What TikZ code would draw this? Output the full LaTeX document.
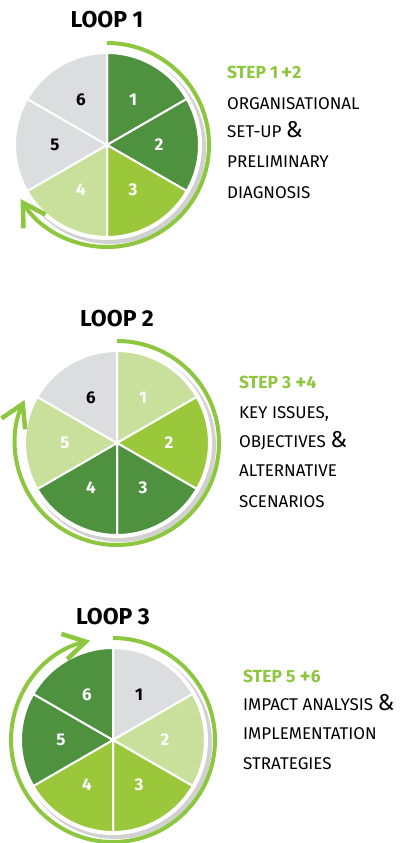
\documentclass[tikz,border=0pt]{standalone}
\usepackage{fontspec}
\setmainfont{Fira Sans}
\usetikzlibrary{arrows.meta, calc, positioning}
\definecolor{LoopDark}{RGB}{78,146,64}
\definecolor{LoopMid}{RGB}{155,199,59}
\definecolor{LoopLight}{RGB}{201,224,157}
\definecolor{LoopGrey}{RGB}{220,221,223}
\definecolor{LoopArrow}{RGB}{141,198,63}

\newcommand{\bigamp}{{\fontsize{23}{23}\selectfont\&}}
\newcommand{\bigplus}{{\fontsize{21}{21}\selectfont\raisebox{-0.5pt}{+}}}

\tikzset{
    slice/.style={draw=white, line width=2pt},
    num/.style={font=\bfseries\fontsize{17}{17}\selectfont},
    looparc/.style={LoopArrow, line width=4pt, -{Straight Barb[length=22pt, width=26pt, line width=4.5pt]}},
    looptitle/.style={font=\bfseries\fontsize{23}{23}\selectfont},
    steptitle/.style={anchor=base west, inner sep=0pt, text=LoopArrow, font=\bfseries\fontsize{17.5}{17.5}\selectfont},
    body/.style={anchor=base west, inner sep=0pt, font=\fontsize{17}{17}\selectfont},
}

\begin{document}
\begin{tikzpicture}[x=1pt, y=1pt]
    \useasboundingbox (0,0) rectangle (412,843);

    % loop 1
    \coordinate (c1) at (107,698);
    \node[looptitle] (t1) at (107,823) {LOOP 1};
    \fill[black!18] ($(c1)+(3,-3)$) circle (96);
    \fill[white] (c1) circle (95);
    \foreach \col/\txt [count=\i] in {LoopDark/white, LoopDark/white, LoopMid/white, LoopLight/white, LoopGrey/black, LoopGrey/black} {
        \filldraw[slice, fill=\col] (c1) -- ++(150-60*\i:92) arc[start angle=150-60*\i, end angle=90-60*\i, radius=92] -- cycle;
        \node[num, text=\txt] (n1-\i) at ($(c1)+(120-60*\i:52)$) {\i};
    }
    \draw[looparc] ($(c1)+(90:102)$) arc[start angle=90, end angle=-148, radius=102];
    \node[steptitle] (s1) at (227,764) {STEP 1\,\bigplus2};
    \node[body] (b1-1) at (227,733) {ORGANISATIONAL};
    \node[body] (b1-2) at (227,705) {SET-UP \bigamp};
    \node[body] (b1-3) at (227,675) {PRELIMINARY};
    \node[body] (b1-4) at (227,644) {DIAGNOSIS};

    % loop 2
    \coordinate (c2) at (117,400);
    \node[looptitle] (t2) at (117,524) {LOOP 2};
    \fill[black!18] ($(c2)+(3,-3)$) circle (96);
    \fill[white] (c2) circle (95);
    \foreach \col/\txt [count=\i] in {LoopLight/white, LoopMid/white, LoopDark/white, LoopDark/white, LoopLight/white, LoopGrey/black} {
        \filldraw[slice, fill=\col] (c2) -- ++(150-60*\i:92) arc[start angle=150-60*\i, end angle=90-60*\i, radius=92] -- cycle;
        \node[num, text=\txt] (n2-\i) at ($(c2)+(120-60*\i:52)$) {\i};
    }
    \draw[looparc] ($(c2)+(90:102)$) arc[start angle=90, end angle=-205, radius=102];
    \node[steptitle] (s2) at (239,454) {STEP 3 \bigplus4};
    \node[body] (b2-1) at (239,424) {KEY ISSUES,};
    \node[body] (b2-2) at (239,395) {OBJECTIVES \bigamp};
    \node[body] (b2-3) at (239,366) {ALTERNATIVE};
    \node[body] (b2-4) at (239,335) {SCENARIOS};

    % loop 3
    \coordinate (c3) at (113,103);
    \node[looptitle] (t3) at (113,226) {LOOP 3};
    \fill[black!18] ($(c3)+(3,-3)$) circle (96);
    \fill[white] (c3) circle (95);
    \foreach \col/\txt [count=\i] in {LoopGrey/black, LoopLight/white, LoopMid/white, LoopMid/white, LoopDark/white, LoopDark/white} {
        \filldraw[slice, fill=\col] (c3) -- ++(150-60*\i:92) arc[start angle=150-60*\i, end angle=90-60*\i, radius=92] -- cycle;
        \node[num, text=\txt] (n3-\i) at ($(c3)+(120-60*\i:52)$) {\i};
    }
    \draw[looparc] ($(c3)+(90:102)$) arc[start angle=90, end angle=-257, radius=102];
    \node[steptitle] (s3) at (243,160) {STEP 5 \bigplus6};
    \node[body] (b3-1) at (243,132) {IMPACT ANALYSIS \bigamp};
    \node[body] (b3-2) at (243,103) {IMPLEMENTATION};
    \node[body] (b3-3) at (243,73) {STRATEGIES};
\end{tikzpicture}
\end{document}
